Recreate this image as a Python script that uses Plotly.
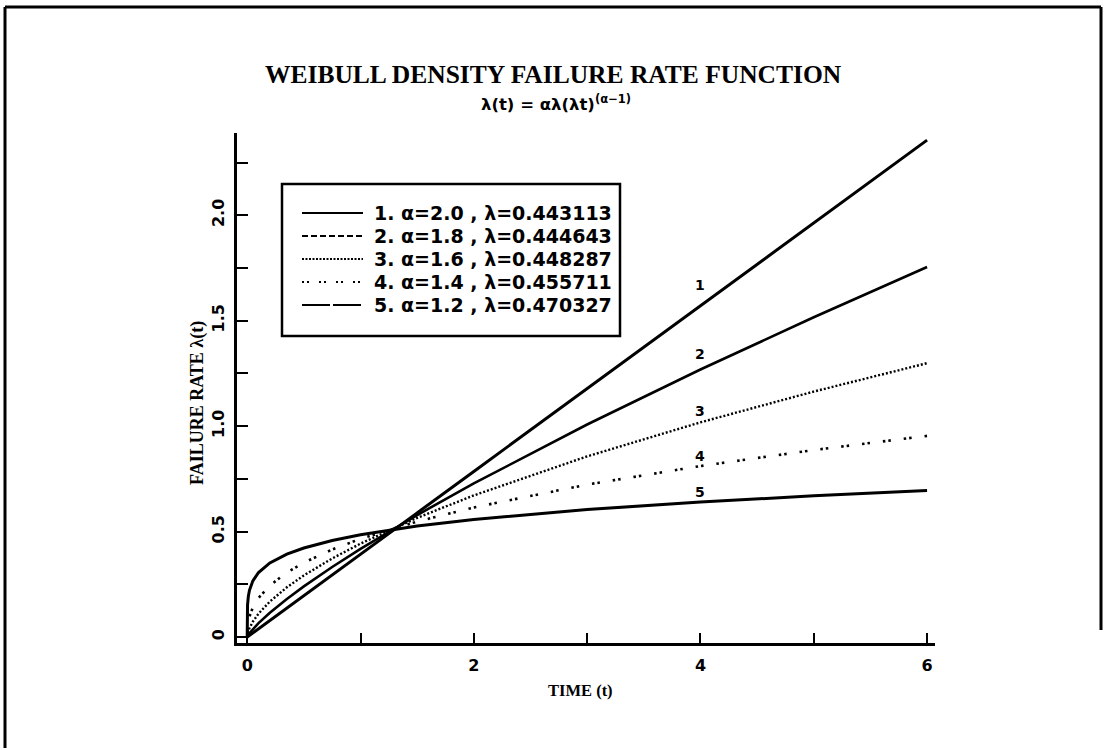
import plotly.graph_objects as go

# ---- data ----
t_vals = [0, 0.001, 0.003, 0.01, 0.02, 0.05, 0.1, 0.2, 0.35, 0.5, 0.75, 1, 1.5, 2, 3, 4, 5, 6]
rate_1 = [0, 0.0004, 0.0012, 0.0039, 0.0079, 0.0196, 0.0393, 0.0785, 0.1374, 0.1963, 0.2945, 0.3927, 0.5890, 0.7854, 1.1781, 1.5708, 1.9635, 2.3562]
rate_2 = [0, 0.0017, 0.0040, 0.0105, 0.0183, 0.0381, 0.0663, 0.1155, 0.1807, 0.2404, 0.3325, 0.4185, 0.5788, 0.7286, 1.0078, 1.2686, 1.5165, 1.7547]
rate_3 = [0, 0.0070, 0.0136, 0.0280, 0.0424, 0.0734, 0.1113, 0.1687, 0.2361, 0.2924, 0.3729, 0.4432, 0.5653, 0.6718, 0.8568, 1.0182, 1.1641, 1.2987]
rate_4 = [0, 0.0294, 0.0456, 0.0738, 0.0974, 0.1406, 0.1855, 0.2447, 0.3061, 0.3531, 0.4152, 0.4659, 0.5479, 0.6147, 0.7230, 0.8111, 0.8869, 0.9540]
rate_5 = [0, 0.1219, 0.1519, 0.1932, 0.2220, 0.2666, 0.3062, 0.3518, 0.3935, 0.4225, 0.4582, 0.4854, 0.5264, 0.5575, 0.6046, 0.6405, 0.6697, 0.6946]

legend_labels = ["1. α=2.0 , λ=0.443113", "2. α=1.8 , λ=0.444643", "3. α=1.6 , λ=0.448287",
                 "4. α=1.4 , λ=0.455711", "5. α=1.2 , λ=0.470327"]
curve_tags = ["1", "2", "3", "4", "5"]
tag_x = [4, 4, 4, 4, 4]
tag_y = [1.67, 1.34, 1.07, 0.86, 0.69]

x_tickvals = [0, 2, 4, 6]
x_ticktext = ["0", "2", "4", "6"]
y_tickvals = [0, 0.5, 1.0, 1.5, 2.0]
y_ticktext = ["0", "0.5", "1.0", "1.5", "2.0"]

# ---- styling ----
W, H = 1107, 750
PX_L, PX_R, PX_T, PX_B = 237, 935, 133, 643


def px(xp):
    return (xp - PX_L) / (PX_R - PX_L)


def py(yp):
    return (PX_B - yp) / (PX_B - PX_T)


plot_dash = ["solid", "solid", "2px,2px", "2.5px,3px,2.5px,13px", "solid"]
plot_width = [3, 2.6, 2.4, 2.6, 3]
legend_dash = ["solid", "6px,3px", "2px,1.5px", "2px,3px,2px,10px", "28px,3px"]
series = [rate_1, rate_2, rate_3, rate_4, rate_5]

SANS = "DejaVu Sans, Liberation Sans, sans-serif"
SERIF = "Liberation Serif, serif"

fig = go.Figure()
for i, ys in enumerate(series):
    fig.add_trace(go.Scatter(
        x=t_vals, y=ys, mode="lines", name=legend_labels[i], showlegend=False,
        line=dict(color="black", width=plot_width[i], dash=plot_dash[i]),
        hoverinfo="skip"))

annotations = []
for i in range(5):
    annotations.append(dict(x=tag_x[i], y=tag_y[i], xref="x", yref="y", text=curve_tags[i],
                            xanchor="center", yanchor="middle",
                            showarrow=False, font=dict(family=SANS, size=14, color="black", weight="bold")))

# titles
annotations.append(dict(x=px(553), y=py(75), xref="paper", yref="paper", xanchor="center", yanchor="middle",
                        text="WEIBULL DENSITY FAILURE RATE FUNCTION", showarrow=False,
                        font=dict(family=SERIF, size=25.5, color="black", weight="bold")))
annotations.append(dict(x=px(556), y=py(103), xref="paper", yref="paper", xanchor="center", yanchor="middle",
                        text="λ(t) = αλ(λt)<sup>(α−1)</sup>", showarrow=False,
                        font=dict(family=SANS, size=16.5, color="black", weight="bold")))
annotations.append(dict(x=px(580), y=py(690), xref="paper", yref="paper", xanchor="center", yanchor="middle",
                        text="TIME (t)", showarrow=False,
                        font=dict(family=SERIF, size=16.5, color="black", weight="bold")))
annotations.append(dict(x=px(197), y=py(403), xref="paper", yref="paper", xanchor="center", yanchor="middle",
                        text="FAILURE RATE λ(t)", showarrow=False, textangle=-90,
                        font=dict(family=SERIF, size=18, color="black", weight="bold")))

shapes = []
# legend box
shapes.append(dict(type="rect", xref="paper", yref="paper", x0=px(282), x1=px(620),
                   y0=py(336), y1=py(184), line=dict(color="black", width=2.5), fillcolor="white"))
row_y = [213, 236, 259, 282, 305]
for i in range(5):
    shapes.append(dict(type="line", xref="paper", yref="paper", x0=px(302), x1=px(363),
                       y0=py(row_y[i]), y1=py(row_y[i]),
                       line=dict(color="black", width=2.2, dash=legend_dash[i])))
    annotations.append(dict(x=px(372), y=py(row_y[i]), xref="paper", yref="paper",
                            xanchor="left", yanchor="middle",
                            text=legend_labels[i], showarrow=False,
                            font=dict(family=SANS, size=19, color="black", weight="bold")))

# outer page frame (top, left, partial right)
shapes.append(dict(type="line", xref="paper", yref="paper", x0=px(5), x1=px(1101), y0=py(7), y1=py(7),
                   line=dict(color="black", width=3)))
shapes.append(dict(type="line", xref="paper", yref="paper", x0=px(5), x1=px(5), y0=py(7), y1=py(748),
                   line=dict(color="black", width=3)))
shapes.append(dict(type="line", xref="paper", yref="paper", x0=px(1101), x1=px(1101), y0=py(7), y1=py(630),
                   line=dict(color="black", width=3)))

minor_x = dict(ticks="inside", ticklen=10, tickwidth=2, tickcolor="black", dtick=1, showgrid=False)
minor_y = dict(ticks="inside", ticklen=11, tickwidth=2, tickcolor="black", dtick=0.25, showgrid=False)

fig.update_layout(
    width=W, height=H,
    margin=dict(l=PX_L, r=W - PX_R, t=PX_T, b=H - PX_B, autoexpand=False),
    paper_bgcolor="white", plot_bgcolor="white",
    showlegend=False,
    annotations=annotations, shapes=shapes,
    xaxis=dict(range=[-0.09, 6.07], tickvals=x_tickvals, ticktext=x_ticktext,
               ticks="inside", ticklen=10, tickwidth=2, tickcolor="black", minor=minor_x,
               showline=True, linecolor="black", linewidth=3, showgrid=False, zeroline=False,
               ticklabelstandoff=6,
               tickfont=dict(family=SANS, size=16, color="black", weight="bold")),
    yaxis=dict(range=[-0.028, 2.39], tickvals=y_tickvals, ticktext=y_ticktext,
               ticks="inside", ticklen=11, tickwidth=2, tickcolor="black", minor=minor_y,
               showline=True, linecolor="black", linewidth=3, showgrid=False, zeroline=False,
               tickangle=-90, ticklabelstandoff=4,
               tickfont=dict(family=SANS, size=16, color="black", weight="bold")),
)

fig.write_html("out.html", config={"displayModeBar": False},
               post_script="document.body.style.margin='0';document.body.style.overflow='hidden';")
